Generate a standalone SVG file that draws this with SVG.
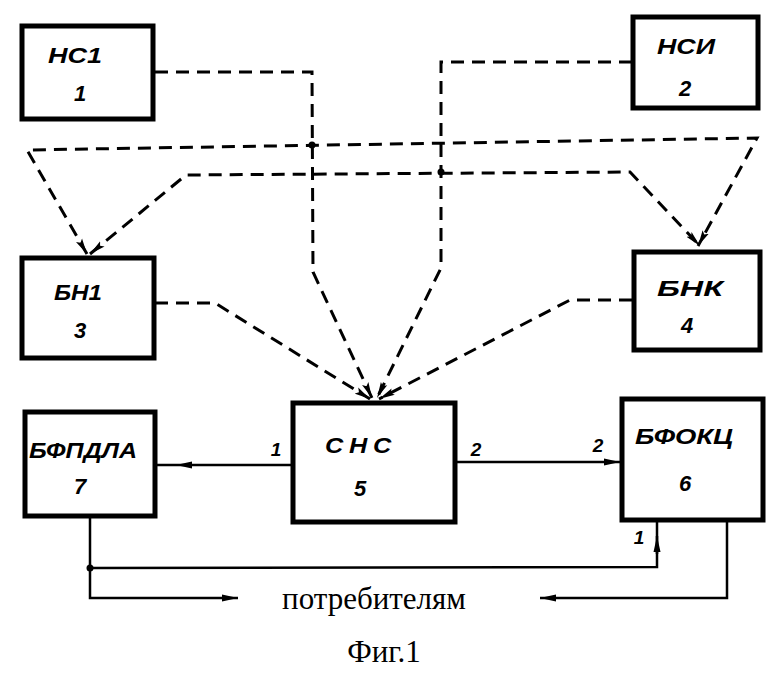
<svg xmlns="http://www.w3.org/2000/svg" width="780" height="675" viewBox="0 0 780 675">
<style>
.box{fill:#fff;stroke:#000;stroke-width:5}
.lbl{font-family:"Liberation Sans",Arial,sans-serif;font-style:italic;font-weight:bold;font-size:22px;text-anchor:middle;fill:#000}
.pin{font-family:"Liberation Sans",Arial,sans-serif;font-style:italic;font-weight:bold;font-size:19px;text-anchor:middle;fill:#000}
.cap{font-family:"Liberation Serif","Times New Roman",serif;font-size:31px;text-anchor:middle;fill:#000}
.dash{fill:none;stroke:#000;stroke-width:3;stroke-dasharray:13 8}
.solid{fill:none;stroke:#000;stroke-width:2.5}
</style>
<defs>
<marker id="ah" viewBox="0 0 16 8" refX="16" refY="4" markerWidth="16" markerHeight="8" markerUnits="userSpaceOnUse" orient="auto-start-reverse">
<path d="M0,0.5 L16,4 L0,7.5 L3,4 Z" fill="#000"/>
</marker>
<marker id="as" viewBox="0 0 16 8" refX="16" refY="4" markerWidth="16" markerHeight="8" markerUnits="userSpaceOnUse" orient="auto">
<path d="M0,0.5 L16,4 L0,7.5 Z" fill="#000"/>
</marker>
</defs>
<g id="connectors">
<path class="dash" d="M155,72 L312,72 L313,272 L372,398" marker-end="url(#ah)"/>
<path class="dash" d="M632,62 L441,62 L441,268 L377,398" marker-end="url(#ah)"/>
<path class="dash" d="M155,303 L215,303 L370,399" marker-end="url(#ah)"/>
<path class="dash" d="M632,300 L570,300 L379,399" marker-end="url(#ah)"/>
<path class="dash" d="M87,254 L27,150 L757,138 L698,246" marker-start="url(#ah)" marker-end="url(#ah)"/>
<path class="dash" d="M90,254 L186,175 L630,172 L700,246" marker-start="url(#ah)" marker-end="url(#ah)"/>
<circle cx="312" cy="145" r="3.5"/>
<circle cx="441" cy="172" r="3.5"/>
<path class="solid" d="M293,465 L176,465 L157,465" marker-mid="url(#as)"/>
<path class="solid" d="M457,462 L620,462" marker-end="url(#as)"/>
<path class="solid" d="M90,518 L90,598 L238,598" marker-end="url(#as)"/>
<path class="solid" d="M90,568 L657,567 L657,521"/>
<path class="solid" d="M657,554 L657,536" marker-end="url(#as)"/>
<circle cx="90" cy="568" r="3.5"/>
<path class="solid" d="M727,521 L727,598 L540,598" marker-end="url(#as)"/>
<text class="pin" x="276" y="456">1</text>
<text class="pin" x="476" y="456">2</text>
<text class="pin" x="598" y="452">2</text>
<text class="pin" x="639" y="544">1</text>
</g>
<g id="n1"><rect class="box" x="22" y="26" width="131" height="93"/><text class="lbl" x="75" y="63" textLength="54" lengthAdjust="spacingAndGlyphs">НС1</text><text class="lbl" x="80" y="101">1</text></g>
<g id="n2"><rect class="box" x="633" y="17" width="125" height="91"/><text class="lbl" x="686" y="54" textLength="58" lengthAdjust="spacingAndGlyphs">НСИ</text><text class="lbl" x="685" y="96">2</text></g>
<g id="n3"><rect class="box" x="22" y="258" width="132" height="100"/><text class="lbl" x="78" y="300" textLength="48" lengthAdjust="spacingAndGlyphs">БН1</text><text class="lbl" x="80" y="338">3</text></g>
<g id="n4"><rect class="box" x="634" y="252" width="126" height="98"/><text class="lbl" x="690" y="296" textLength="66" lengthAdjust="spacingAndGlyphs">БНК</text><text class="lbl" x="687" y="333">4</text></g>
<g id="n5"><rect class="box" x="293" y="403" width="162" height="119"/><text class="lbl" x="361" y="453" letter-spacing="5" textLength="72" lengthAdjust="spacingAndGlyphs">СНС</text><text class="lbl" x="360" y="496">5</text></g>
<g id="n6"><rect class="box" x="622" y="399" width="141" height="121"/><text class="lbl" x="684" y="444" textLength="98" lengthAdjust="spacingAndGlyphs">БФОКЦ</text><text class="lbl" x="685" y="491">6</text></g>
<g id="n7"><rect class="box" x="25" y="412" width="130" height="104"/><text class="lbl" x="83" y="458" textLength="108" lengthAdjust="spacingAndGlyphs">БФПДЛА</text><text class="lbl" x="80" y="494">7</text></g>
<text class="cap" x="374" y="609">потребителям</text>
<text class="cap" x="384" y="662">Фиг.1</text>
</svg>
